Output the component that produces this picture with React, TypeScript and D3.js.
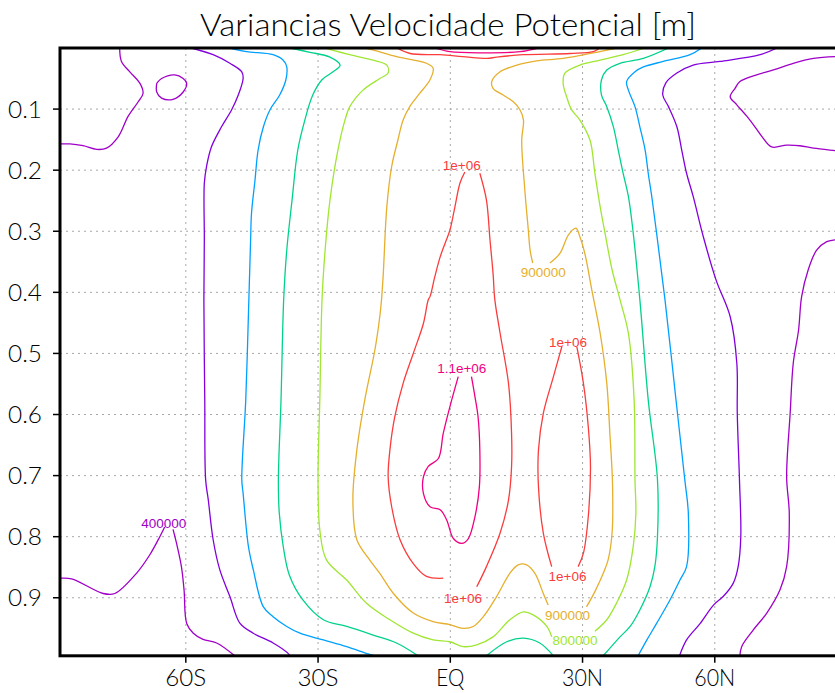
import React from "react";
import * as d3 from "d3";

type Pt = [number, number]; // [latitude, sigma]

// axes
const latTicks = [-60, -30, 0, 30, 60];
const latLabels = ["60S", "30S", "EQ", "30N", "60N"];
const sigTicks = [0.1, 0.2, 0.3, 0.4, 0.5, 0.6, 0.7, 0.8, 0.9];
const sigLabels = ["0.1", "0.2", "0.3", "0.4", "0.5", "0.6", "0.7", "0.8", "0.9"];

// contour levels and GrADS rainbow colours
const levels = [400000, 500000, 600000, 700000, 800000, 900000, 1000000, 1100000];
const levelColors = ["#a000c8", "#8200dc", "#00a0ff", "#00d28c", "#a0e632", "#e6af2d", "#fa3c3c", "#f00082"];

// 400000
const c400sw1: Pt[] = [[-88.54, 0.868], [-85.9, 0.869], [-78.75, 0.893], [-76.1, 0.893], [-71.2, 0.86], [-68.2, 0.83], [-65.9, 0.8], [-64.8, 0.784]];
const c400sw2: Pt[] = [[-62.9, 0.788], [-62.1, 0.811], [-61.0, 0.849], [-60.4, 0.887], [-59.8, 0.942], [-58.3, 0.958], [-56.1, 0.968], [-53.0, 0.974], [-48.9, 0.995]];
const c400nw: Pt[] = [[-75.0, 0], [-74.6, 0.022], [-72.7, 0.039], [-70.4, 0.058], [-69.7, 0.074], [-70.8, 0.088], [-73.1, 0.112], [-75.3, 0.145], [-78.0, 0.164], [-80.2, 0.166], [-83.3, 0.16], [-86.3, 0.157], [-88.54, 0.157]];
const c400ring: Pt[] = [[-66.6, 0.058], [-65.5, 0.05], [-62.5, 0.044], [-60.6, 0.05], [-59.8, 0.058], [-60.6, 0.072], [-62.9, 0.084], [-65.5, 0.082], [-66.6, 0.072], [-66.6, 0.058]];
const c400ne: Pt[] = [[88.54, 0.014], [87.3, 0.014], [82.4, 0.017], [77.8, 0.025], [73.3, 0.036], [69.5, 0.044], [65.7, 0.055], [64.6, 0.066], [63.5, 0.08], [65.0, 0.093], [67.3, 0.112], [69.1, 0.129], [70.7, 0.145], [72.9, 0.162], [76.3, 0.159], [79.3, 0.16], [82.4, 0.164], [87.3, 0.168], [88.54, 0.169]];
const c400e: Pt[] = [[88.54, 0.313], [87.3, 0.314], [85.4, 0.317], [83.1, 0.331], [81.2, 0.363], [79.7, 0.407], [79.0, 0.462], [77.8, 0.516], [77.1, 0.598], [76.3, 0.702], [76.9, 0.762], [76.3, 0.849], [74.8, 0.887], [71.8, 0.925], [68.7, 0.953], [66.1, 0.98], [65.7, 0.995]];

// 500000
const c500w: Pt[] = [[-58.7, 0], [-53.8, 0.011], [-50.0, 0.025], [-47.3, 0.039], [-47.0, 0.05], [-48.1, 0.077], [-49.6, 0.101], [-51.9, 0.129], [-54.2, 0.162], [-55.3, 0.194], [-55.8, 0.221], [-55.8, 0.314], [-55.9, 0.412], [-55.7, 0.576], [-55.5, 0.707], [-54.9, 0.74], [-53.8, 0.805], [-52.3, 0.854], [-50.0, 0.898], [-47.7, 0.942], [-44.7, 0.958], [-40.2, 0.974], [-36.8, 0.991], [-36.4, 0.995]];
const c500e: Pt[] = [[74.1, 0], [70.3, 0.011], [61.2, 0.022], [55.1, 0.028], [51.4, 0.041], [48.9, 0.057], [48.2, 0.077], [49.5, 0.096], [51.4, 0.129], [52.5, 0.167], [53.6, 0.205], [55.1, 0.243], [57.4, 0.309], [60.3, 0.38], [63.5, 0.44], [65.0, 0.516], [65.1, 0.598], [65.6, 0.707], [65.9, 0.8], [65.3, 0.849], [64.2, 0.876], [61.9, 0.898], [59.7, 0.912], [56.7, 0.942], [53.6, 0.969], [52.0, 0.995]];

// 600000
const c600w: Pt[] = [[-50.0, 0], [-46.2, 0.006], [-40.2, 0.011], [-37.9, 0.02], [-37.1, 0.031], [-37.3, 0.052], [-38.7, 0.077], [-40.9, 0.101], [-42.4, 0.129], [-43.6, 0.167], [-44.3, 0.216], [-45.1, 0.271], [-45.3, 0.314], [-45.7, 0.412], [-46.4, 0.576], [-47.3, 0.707], [-47.0, 0.729], [-45.8, 0.816], [-44.7, 0.854], [-42.4, 0.915], [-40.2, 0.931], [-37.1, 0.947], [-34.1, 0.958], [-28.8, 0.969], [-23.5, 0.98], [-18.6, 0.992], [-17.1, 0.995]];
const c600e: Pt[] = [[57.0, 0], [54.4, 0.011], [48.3, 0.022], [43.8, 0.031], [41.9, 0.039], [40.0, 0.055], [40.4, 0.069], [41.9, 0.096], [43.0, 0.129], [44.2, 0.167], [44.9, 0.205], [45.7, 0.243], [46.8, 0.303], [48.7, 0.412], [51.2, 0.576], [53.2, 0.707], [54.0, 0.762], [53.6, 0.849], [52.1, 0.871], [49.8, 0.904], [46.8, 0.942], [44.6, 0.969], [42.6, 0.995]];

// 700000
const c700w: Pt[] = [[-36.4, 0], [-31.8, 0.007], [-27.3, 0.015], [-25.0, 0.028], [-26.6, 0.039], [-29.1, 0.052], [-31.2, 0.077], [-33.0, 0.118], [-34.6, 0.167], [-35.9, 0.249], [-37.1, 0.331], [-37.8, 0.412], [-38.4, 0.576], [-39.0, 0.707], [-38.8, 0.761], [-37.9, 0.816], [-36.5, 0.863], [-33.4, 0.904], [-28.8, 0.936], [-23.5, 0.947], [-17.5, 0.961], [-12.2, 0.974], [-7.3, 0.995]];
const c700bump: Pt[] = [[8.2, 0.995], [12.8, 0.972], [16.6, 0.966], [20.3, 0.974], [23.4, 0.995]];
const c700e: Pt[] = [[49.5, 0], [43.8, 0.017], [38.5, 0.025], [35.5, 0.036], [34.3, 0.052], [34.3, 0.077], [35.5, 0.096], [37.0, 0.129], [38.1, 0.167], [39.2, 0.205], [40.4, 0.243], [41.5, 0.303], [43.0, 0.412], [44.9, 0.576], [47.0, 0.707], [47.0, 0.8], [46.4, 0.849], [45.3, 0.882], [43.0, 0.92], [40.8, 0.947], [38.5, 0.964], [34.7, 0.995]];

// 800000
const c800a: Pt[] = [[-28.4, 0], [-22.8, 0.011], [-17.5, 0.02], [-14.4, 0.028], [-14.1, 0.041], [-16.0, 0.05], [-19.8, 0.069], [-22.8, 0.096], [-23.9, 0.118], [-25.5, 0.167], [-27.3, 0.249], [-28.4, 0.331], [-29.1, 0.412], [-29.6, 0.576], [-30.0, 0.707], [-29.6, 0.789], [-28.1, 0.838], [-23.5, 0.871], [-19.0, 0.909], [-13.7, 0.936], [-8.4, 0.958], [-3.9, 0.969], [-0.1, 0.972], [2.9, 0.98], [6.0, 0.977], [9.7, 0.964], [13.5, 0.936], [16.6, 0.923], [18.8, 0.928], [21.9, 0.947], [23.0, 0.964]];
const c800b: Pt[] = [[32.8, 0.955], [35.5, 0.936], [37.7, 0.909], [40.0, 0.871], [41.5, 0.816], [42.1, 0.762], [41.9, 0.707], [41.7, 0.576], [40.4, 0.467], [38.5, 0.412], [36.7, 0.363], [35.1, 0.303], [34.0, 0.26], [32.8, 0.205], [31.7, 0.151], [29.4, 0.118], [27.5, 0.101], [26.4, 0.08], [25.6, 0.058], [26.0, 0.041], [29.4, 0.028], [34.0, 0.02], [39.2, 0.011], [44.1, 0]];

// 900000
const c900a: Pt[] = [[-19.4, 0], [-17.6, 0.003], [-12.2, 0.014], [-5.4, 0.025], [-3.9, 0.033], [-4.6, 0.052], [-6.9, 0.074], [-9.2, 0.096], [-10.7, 0.118], [-11.9, 0.151], [-13.3, 0.194], [-14.4, 0.26], [-15.2, 0.369], [-15.6, 0.412], [-16.0, 0.44], [-17.1, 0.494], [-19.4, 0.576], [-21.2, 0.658], [-22.1, 0.74], [-21.2, 0.805], [-18.3, 0.838], [-16.0, 0.86], [-12.9, 0.893], [-8.4, 0.925], [-3.9, 0.939], [-0.1, 0.944], [2.9, 0.95], [5.2, 0.947], [7.5, 0.931], [10.5, 0.898], [13.5, 0.86], [15.4, 0.846], [17.3, 0.846], [19.2, 0.86], [21.1, 0.893], [22.2, 0.912]];
const c900b: Pt[] = [[30.9, 0.915], [32.8, 0.89], [34.7, 0.86], [35.8, 0.838], [36.7, 0.794], [36.8, 0.713], [36.2, 0.631], [35.5, 0.549], [34.0, 0.467], [32.1, 0.396], [30.6, 0.339], [29.4, 0.309], [28.5, 0.295], [26.8, 0.306], [24.9, 0.336], [22.6, 0.352]];
const c900c: Pt[] = [[18.7, 0.352], [18.1, 0.331], [17.7, 0.298], [16.9, 0.232], [16.2, 0.151], [16.6, 0.118], [15.8, 0.101], [14.3, 0.088], [12.0, 0.077], [9.7, 0.066], [9.4, 0.055], [11.3, 0.039], [15.1, 0.028], [19.6, 0.021], [25.6, 0.017], [32.4, 0.008], [37.8, 0]];

// 1e+06
const c1000top: Pt[] = [[-12.1, 0], [-9.1, 0.009], [-2.3, 0.011], [2.8, 0.014], [8.3, 0.017], [10.5, 0.015], [16.5, 0.011], [27.2, 0.009], [32.4, 0.006], [33.9, 0]];
const c1000La: Pt[] = [[3.3, 0.203], [2.2, 0.221], [1.05, 0.26], [-0.08, 0.298], [-1.2, 0.32], [-2.3, 0.342], [-3.5, 0.374], [-4.6, 0.407], [-5.0, 0.412], [-6.1, 0.451], [-8.4, 0.5], [-10.7, 0.549], [-12.6, 0.604], [-13.7, 0.658], [-14.1, 0.702], [-13.3, 0.751], [-11.4, 0.805], [-8.4, 0.844], [-5.4, 0.865], [-1.6, 0.868]];
const c1000Lb: Pt[] = [[6.7, 0.205], [8.2, 0.249], [9.0, 0.314], [9.7, 0.369], [10.1, 0.412], [11.3, 0.467], [13.2, 0.549], [13.9, 0.631], [13.9, 0.685], [13.2, 0.74], [11.3, 0.794], [8.2, 0.849], [6.0, 0.882]];
const c1000Ra: Pt[] = [[25.3, 0.489], [23.4, 0.538], [21.1, 0.598], [20.0, 0.658], [20.0, 0.718], [21.1, 0.794], [23.0, 0.849]];
const c1000Rb: Pt[] = [[28.7, 0.489], [30.2, 0.549], [31.3, 0.62], [31.8, 0.685], [31.3, 0.767], [30.2, 0.827], [29.0, 0.849]];

// 1.1e+06
const c1100top: Pt[] = [[-3.5, 0], [-0.1, 0.006], [6.7, 0.008], [15.8, 0.006], [19.9, 0]];
const c1100loop: Pt[] = [[1.8, 0.538], [-0.08, 0.587], [-1.6, 0.631], [-2.7, 0.672], [-5.0, 0.685], [-6.1, 0.702], [-6.1, 0.729], [-4.6, 0.751], [-2.3, 0.756], [-0.8, 0.773], [0.7, 0.803], [2.6, 0.811], [4.1, 0.803], [5.6, 0.767], [6.6, 0.718], [6.7, 0.658], [6.3, 0.604], [5.6, 0.571], [4.8, 0.538]];

const segments: { level: number; pts: Pt[] }[] = [
  { level: 400000, pts: c400sw1 }, { level: 400000, pts: c400sw2 }, { level: 400000, pts: c400nw },
  { level: 400000, pts: c400ring }, { level: 400000, pts: c400ne }, { level: 400000, pts: c400e },
  { level: 500000, pts: c500w }, { level: 500000, pts: c500e },
  { level: 600000, pts: c600w }, { level: 600000, pts: c600e },
  { level: 700000, pts: c700w }, { level: 700000, pts: c700bump }, { level: 700000, pts: c700e },
  { level: 800000, pts: c800a }, { level: 800000, pts: c800b },
  { level: 900000, pts: c900a }, { level: 900000, pts: c900b }, { level: 900000, pts: c900c },
  { level: 1000000, pts: c1000top }, { level: 1000000, pts: c1000La }, { level: 1000000, pts: c1000Lb },
  { level: 1000000, pts: c1000Ra }, { level: 1000000, pts: c1000Rb },
  { level: 1100000, pts: c1100top }, { level: 1100000, pts: c1100loop },
];

// contour labels: text, lat, sigma, level
const contourLabels: [string, number, number, number][] = [
  ["400000", -65.0, 0.778, 400000],
  ["1e+06", 2.6, 0.192, 1000000],
  ["900000", 21.1, 0.366, 900000],
  ["1e+06", 26.7, 0.481, 1000000],
  ["1.1e+06", 2.6, 0.524, 1100000],
  ["1e+06", 26.6, 0.865, 1000000],
  ["1e+06", 2.9, 0.9, 1000000],
  ["900000", 26.6, 0.928, 900000],
  ["800000", 28.3, 0.969, 800000],
];

const thinFont = "Lato, 'Liberation Sans', Arial, sans-serif";

export default function App() {
  const W = 835;
  const H = 693;
  const x = d3.scaleLinear().domain([-88.542, 88.542]).range([60, 840.6]);
  const y = d3.scaleLinear().domain([0, 0.995]).range([48, 655.8]);
  const color = d3.scaleOrdinal<number, string>().domain(levels).range(levelColors);
  const line = d3
    .line<Pt>()
    .x((d) => x(d[0]))
    .y((d) => y(d[1]))
    .curve(d3.curveCatmullRom.alpha(0.5));

  const x0 = x(-88.542), x1 = x(88.542), y0 = y(0), y1 = y(0.995);

  return (
    <svg
      width={W}
      height={H}
      style={{ position: "absolute", left: 0, top: 0, background: "#fff" }}
      fontFamily="'Liberation Sans', Arial, sans-serif"
    >
      <defs>
        <clipPath id="plotArea">
          <rect x={x0} y={y0} width={x1 - x0} height={y1 - y0} />
        </clipPath>
      </defs>
      <rect x={0} y={0} width={W} height={H} fill="#fff" />

      {/* grid */}
      <g stroke="#a8a8a8" strokeWidth={1} strokeDasharray="2,4">
        {latTicks.map((t) => (
          <line key={"gx" + t} x1={x(t)} x2={x(t)} y1={y0} y2={y1} />
        ))}
        {sigTicks.map((t) => (
          <line key={"gy" + t} x1={x0} x2={x1} y1={y(t)} y2={y(t)} />
        ))}
      </g>

      {/* contours */}
      <g clipPath="url(#plotArea)" fill="none" strokeWidth={1.3} strokeLinejoin="round">
        {segments.map((s, i) => (
          <path key={i} d={line(s.pts) || ""} stroke={color(s.level)} />
        ))}
      </g>

      {/* contour labels */}
      <g fontSize={13.5} textAnchor="middle">
        {contourLabels.map(([t, la, si, lv], i) => (
          <text key={i} x={x(la)} y={y(si) + 5} fill={color(lv)}>
            {t}
          </text>
        ))}
      </g>

      {/* frame */}
      <rect x={x0} y={y0} width={x1 - x0} height={y1 - y0} fill="none" stroke="#000" strokeWidth={3} />

      {/* ticks */}
      <g stroke="#000" strokeWidth={1.5}>
        {sigTicks.map((t) => (
          <line key={"ty" + t} x1={x0 - 7} x2={x0} y1={y(t)} y2={y(t)} />
        ))}
        {latTicks.map((t) => (
          <line key={"tx" + t} x1={x(t)} x2={x(t)} y1={y1} y2={y1 + 7} />
        ))}
      </g>

      {/* tick labels */}
      <g fontSize={24} fill="#000" fontFamily={thinFont} fontWeight={300}>
        {sigTicks.map((t, i) => (
          <text key={"ly" + t} x={42} y={y(t) + 8.5} textAnchor="end" textLength={34} lengthAdjust="spacingAndGlyphs">
            {sigLabels[i]}
          </text>
        ))}
        {latTicks.map((t, i) => (
          <text key={"lx" + t} x={x(t)} y={686} textAnchor="middle" textLength={latLabels[i].length === 2 ? 28 : 41} lengthAdjust="spacingAndGlyphs">
            {latLabels[i]}
          </text>
        ))}
      </g>

      {/* title */}
      <text x={448} y={36} fontSize={32} textAnchor="middle" fontFamily={thinFont} fontWeight={300} textLength={496} lengthAdjust="spacingAndGlyphs">
        Variancias Velocidade Potencial [m]
      </text>
    </svg>
  );
}
